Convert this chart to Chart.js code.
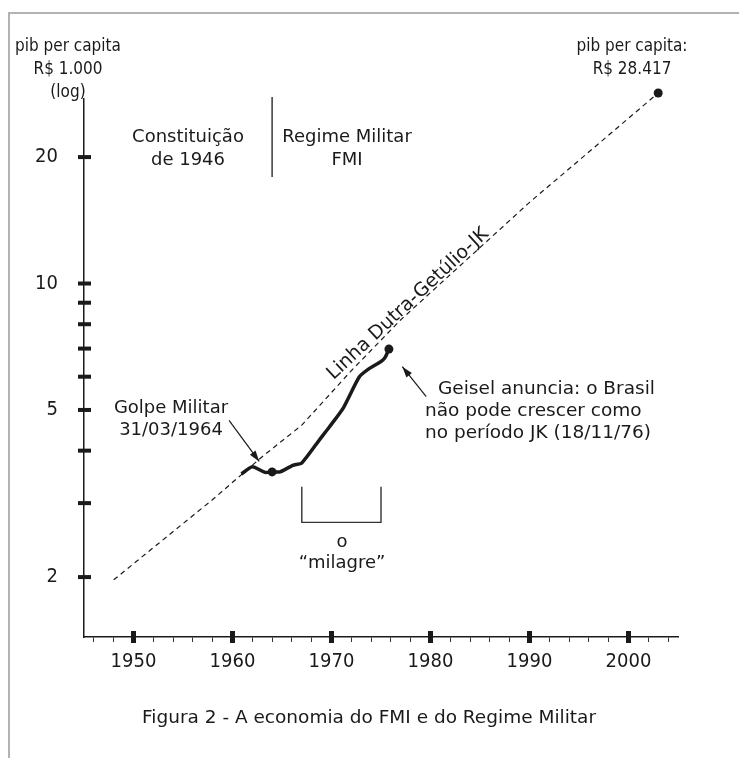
<!DOCTYPE html>
<html>
<head>
<meta charset="utf-8">
<script src="https://cdn.jsdelivr.net/npm/chart.js@4.4.1/dist/chart.umd.min.js"></script>
<style>
html,body{margin:0;padding:0;background:#fff;}
#wrap{position:relative;width:739px;height:758px;overflow:hidden;}
#frame{position:absolute;left:8px;top:12px;right:-4px;bottom:-4px;border-top:2px solid #b2b2b2;border-left:2px solid #b2b2b2;}
canvas{position:absolute;left:0;top:0;}
</style>
</head>
<body>
<div id="wrap"><div id="frame"></div><canvas id="c" width="739" height="758"></canvas></div>
<script>
// pib per capita (R$ 1.000, log) - curva do periodo militar
const milagreYears  = [1960.9, 1962.0, 1963.3, 1964.0, 1964.8, 1966.1, 1967.0, 1968.8, 1969.8, 1971.2, 1972.8, 1973.8, 1975.0, 1975.4, 1975.8];
const milagreValues = [3.52, 3.66, 3.55, 3.56, 3.56, 3.69, 3.74, 4.25, 4.56, 5.06, 5.99, 6.27, 6.52, 6.66, 6.98];

// Linha Dutra-Getulio-JK (tracejada)
const trendYears  = [1948, 1958, 1963, 1967, 1972, 1977, 1990, 2003];
const trendValues = [1.97, 3.06, 3.87, 4.6, 6.2, 8.2, 15.6, 28.417];

// colchete "o milagre"
const bracketYears  = [1967, 1967, 1975, 1975];
const bracketValues = [3.28, 2.70, 2.70, 3.28];

const xTickYears  = [1946,1948,1950,1952,1954,1956,1958,1960,1962,1964,1966,1968,1970,1972,1974,1976,1978,1980,1982,1984,1986,1988,1990,1992,1994,1996,1998,2000,2002,2004];
const xLabelYears = [1950,1960,1970,1980,1990,2000];
const yTicks  = [2,3,4,5,6,7,8,9,10,20];
const yLabels = [2,5,10,20];

const TXT = "'DejaVu Sans', Verdana, sans-serif";
const AX = "'DejaVu Sans Condensed', Tahoma, 'Liberation Sans', sans-serif";
const INK = '#1a1a1a';

function pts(xs, ys){ return xs.map((x,i)=>({x:x, y:ys[i]})); }

function arrow(ctx, x1, y1, x2, y2){
  ctx.beginPath(); ctx.moveTo(x1,y1); ctx.lineTo(x2,y2); ctx.stroke();
  let a = Math.atan2(y2-y1, x2-x1);
  ctx.beginPath();
  ctx.moveTo(x2,y2);
  ctx.lineTo(x2-11*Math.cos(a)+3.5*Math.sin(a), y2-11*Math.sin(a)-3.5*Math.cos(a));
  ctx.lineTo(x2-11*Math.cos(a)-3.5*Math.sin(a), y2-11*Math.sin(a)+3.5*Math.cos(a));
  ctx.closePath(); ctx.fill();
}

const extras = {
  id: 'extras',
  afterDraw(chart){
    const ctx = chart.ctx, xs = chart.scales.x, ys = chart.scales.y;
    const px = v => xs.getPixelForValue(v), py = v => ys.getPixelForValue(v);
    ctx.save();
    ctx.fillStyle = INK; ctx.strokeStyle = INK;
    // marcas grossas dos eixos
    yTicks.forEach(v => ctx.fillRect(xs.left-6, py(v)-2, 13, 4));
    xLabelYears.forEach(v => ctx.fillRect(px(v)-2.5, ys.bottom-6, 5, 12));

    // ponto final da linha (fica acima do topo do eixo)
    const n = trendYears.length-1;
    ctx.beginPath(); ctx.arc(px(trendYears[n]), py(trendValues[n]), 4.5, 0, Math.PI*2); ctx.fill();

    // separador 1964
    ctx.lineWidth = 1.3;
    ctx.beginPath(); ctx.moveTo(px(1964), ys.top-2); ctx.lineTo(px(1964), 177); ctx.stroke();

    // setas
    ctx.lineWidth = 1.2;
    arrow(ctx, px(1959.65), py(4.72), px(1962.7), py(3.77));
    arrow(ctx, px(1979.57), py(5.38), px(1977.15), py(6.34));

    ctx.textAlign = 'center'; ctx.textBaseline = 'middle';
    ctx.font = '17px ' + AX;
    ctx.fillText('pib per capita', 68, 47);
    ctx.fillText('R$ 1.000', 68, 70);
    ctx.fillText('(log)', 68, 93);
    ctx.fillText('pib per capita:', 632, 47);
    ctx.fillText('R$ 28.417', 632, 70);

    ctx.font = '18px ' + TXT;
    ctx.fillText('Constituição', 188, 137);
    ctx.fillText('de 1946', 188, 160);
    ctx.fillText('Regime Militar', 347, 137);
    ctx.fillText('FMI', 347, 160);
    ctx.fillText('Golpe Militar', 171, 408);
    ctx.fillText('31/03/1964', 171, 430);
    ctx.fillText('o', 342, 542);
    ctx.fillText('\u201cmilagre\u201d', 342, 563);
    ctx.font = '18.5px ' + TXT;
    ctx.fillText('Figura 2 - A economia do FMI e do Regime Militar', 369, 718);

    ctx.textAlign = 'left';
    ctx.fillText('Geisel anuncia: o Brasil', 438, 389);
    ctx.fillText('não pode crescer como', 425, 411);
    ctx.fillText('no período JK (18/11/76)', 425, 433);

    ctx.save();
    ctx.translate(408, 304);
    ctx.rotate(-43*Math.PI/180);
    ctx.textAlign = 'center';
    ctx.font = '19px ' + TXT;
    ctx.fillText('Linha Dutra-Getúlio-JK', 0, 0);
    ctx.restore();
    ctx.restore();
  }
};

new Chart(document.getElementById('c'), {
  type: 'line',
  data: {
    datasets: [
      {data: pts(trendYears, trendValues), borderColor: INK, borderWidth: 1.2, borderDash: [5,4],
       pointRadius: 0, clip: false, tension: 0},
      {data: pts(milagreYears, milagreValues), borderColor: INK, borderWidth: 3.5,
       pointRadius: milagreYears.map((y,i)=> (i===3 || i===milagreYears.length-1) ? 4.5 : 0),
       pointBackgroundColor: INK, pointBorderWidth: 0, borderJoinStyle: 'round', tension: 0.2, clip: false},
      {data: pts(bracketYears, bracketValues), borderColor: '#333', borderWidth: 1.4, pointRadius: 0, tension: 0}
    ]
  },
  options: {
    responsive: false, animation: false,
    layout: {padding: {left: 24, right: 61, top: 99, bottom: 71}},
    plugins: {legend: {display: false}, tooltip: {enabled: false}},
    scales: {
      x: {
        type: 'linear', min: 1945, max: 2005, bounds: 'data',
        afterFit: s => { s.height = 50; },
        afterBuildTicks: s => { s.ticks = xTickYears.map(v => ({value: v})); },
        grid: {drawOnChartArea: false, drawTicks: true, tickLength: 5, tickWidth: 1, color: '#333'},
        border: {display: true, color: INK, width: 1.5},
        ticks: {autoSkip: false, maxRotation: 0, padding: 8, color: INK,
                font: {family: AX, size: 20},
                callback: v => xLabelYears.includes(v) ? String(v) : ''}
      },
      y: {
        type: 'logarithmic', min: 1.44, max: 27.5, bounds: 'data',
        afterFit: s => { s.width = 60; },
        afterBuildTicks: s => { s.ticks = yTicks.map(v => ({value: v})); },
        grid: {display: false},
        border: {display: true, color: INK, width: 1.5},
        ticks: {autoSkip: false, padding: 18, color: INK,
                font: {family: AX, size: 20},
                callback: v => yLabels.includes(v) ? String(v) : ''}
      }
    }
  },
  plugins: [extras]
});
</script>
</body>
</html>
